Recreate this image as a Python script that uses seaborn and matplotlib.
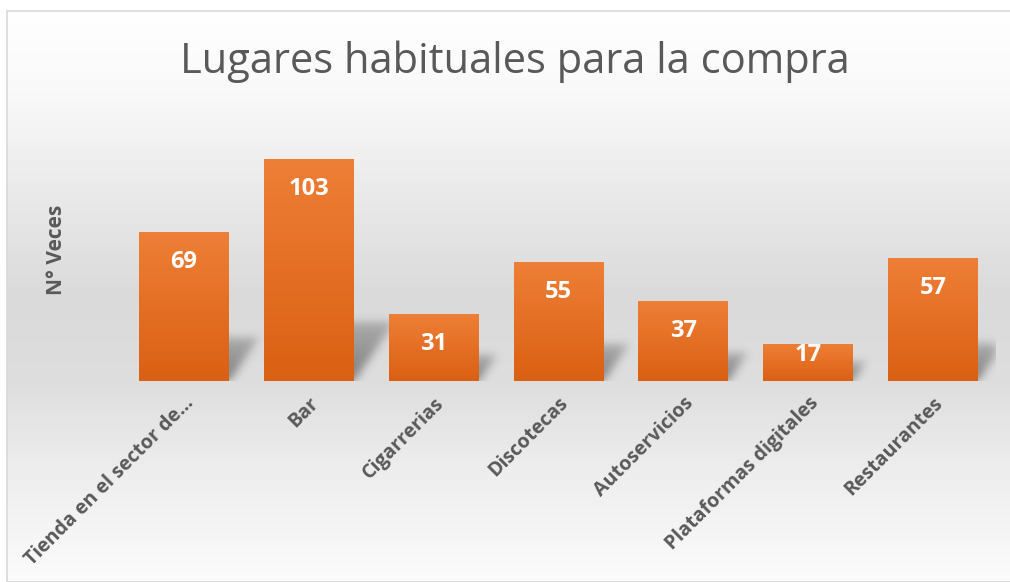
import numpy as np
import matplotlib
matplotlib.use("Agg")
import matplotlib.pyplot as plt
import matplotlib.colors as mcolors
from matplotlib.patches import Rectangle
import seaborn as sns
import pandas as pd

categories = ["Tienda en el sector de…", "Bar", "Cigarrerias", "Discotecas",
              "Autoservicios", "Plataformas digitales", "Restaurantes"]
values = [69, 103, 31, 55, 37, 17, 57]
title = "Lugares habituales para la compra"
ylabel = "N° Veces"

sns.set_theme(style="white")
plt.rcParams["font.family"] = ["Open Sans", "DejaVu Sans"]

W, H = 1010, 582
fig = plt.figure(figsize=(W / 100, H / 100), dpi=100)
fig.patch.set_facecolor("white")

# background panel with vertical gradient
bx0, by_top = 7, 11
bg = fig.add_axes([bx0 / W, 0, 1 - bx0 / W, (H - by_top) / H], zorder=0)
ys = np.linspace(0, 1, 400)  # 0 = top
stops_y = [0.0, 0.15, 0.50, 0.65, 0.80, 1.0]
stops_v = [1.0, 0.975, 0.855, 0.87, 0.93, 0.985]
g = np.interp(ys, stops_y, stops_v)
g2 = np.tile(g[:, None], (1, 2))
img = np.stack([g2, g2, g2], axis=-1)
bg.imshow(img, aspect="auto", extent=(0, 1, 0, 1), origin="upper")
bg.set_xlim(0, 1)
bg.set_ylim(0, 1)
bg.axis("off")
fig.patches.append(Rectangle((bx0 / W, 0), 1.2, (H - by_top) / H,
                             transform=fig.transFigure, fill=False,
                             edgecolor="#d9d9d9", linewidth=1.2, zorder=1))

# main axes
left = 121.5 / W
right = 995.5 / W
base = (H - 381) / H
ymax = 120
top_px = ymax * (222 / 103)
ax = fig.add_axes([left, base, right - left, top_px / H], zorder=2)
ax.patch.set_alpha(0)

df = pd.DataFrame({"cat": categories, "val": values})
sns.barplot(data=df, x="cat", y="val", ax=ax, color="#ED7D31", width=0.72,
            saturation=1, zorder=3)
ax.set_xlim(-0.5, 6.5)
ax.set_ylim(0, ymax)

# shadows (blurred), built from bar values
nx, ny = 875, 100
sh_ymax = 45.0
grid = np.zeros((ny, nx))
xs = np.linspace(-0.5, 6.5, nx)
yv = np.linspace(0, sh_ymax, ny)
XX, YY = np.meshgrid(xs, yv)
for i, v in enumerate(values):
    hs = 0.22 * v + 5
    dx = 0.009 * hs
    frac = np.clip(YY / hs, 0, None)
    x0 = i - 0.30 + frac * dx
    x1 = i + 0.36 + frac * dx * 1.3
    inside = (YY <= hs) & (XX >= x0) & (XX <= x1)
    grid = np.maximum(grid, inside * (1 - 0.5 * frac))


def blur(a, sigma):
    r = int(3 * sigma)
    k = np.exp(-0.5 * (np.arange(-r, r + 1) / sigma) ** 2)
    k /= k.sum()
    a = np.apply_along_axis(lambda m: np.convolve(m, k, mode="same"), 1, a)
    a = np.apply_along_axis(lambda m: np.convolve(m, k, mode="same"), 0, a)
    return a


grid = blur(grid, 4.5)
rgba = np.zeros((ny, nx, 4))
rgba[..., :3] = 0.33
rgba[..., 3] = np.clip(grid * 0.7, 0, 1)
ax.imshow(rgba, extent=(-0.5, 6.5, 0, sh_ymax), origin="lower",
          aspect="auto", zorder=1, interpolation="bilinear")
ax.set_xlim(-0.5, 6.5)
ax.set_ylim(0, ymax)

# gradient fill per bar
cmap = mcolors.LinearSegmentedColormap.from_list("og", ["#DA6013", "#EE7F36"])
grad = np.linspace(0, 1, 256)[:, None]
for p in list(ax.patches):
    x0, y0 = p.get_x(), p.get_y()
    w, h = p.get_width(), p.get_height()
    p.set_edgecolor("none")
    im = ax.imshow(grad, cmap=cmap, extent=(x0, x0 + w, y0, y0 + h),
                   origin="lower", aspect="auto", zorder=4)
    im.set_clip_path(p)
ax.set_xlim(-0.5, 6.5)
ax.set_ylim(0, ymax)

# value labels
px_per_unit = 222 / 103
for i, v in enumerate(values):
    ypos = max(v - 30 / px_per_unit, 26 / px_per_unit)
    ax.text(i, ypos, str(v), ha="center", va="center", color="white",
            fontsize=17, fontweight="bold", zorder=6)

sns.despine(ax=ax, left=True, bottom=True)
ax.set_yticks([])
ax.set_xlabel("")
ax.set_ylabel("")
ax.tick_params(axis="x", length=0, pad=9)
ax.set_xticks(range(len(categories)))
ax.set_xticklabels(categories, rotation=45, ha="right", rotation_mode="anchor",
                   fontsize=14, fontweight="bold", color="#595959")

fig.text(57 / W, 1 - 250 / H, ylabel, rotation=90, ha="center", va="center",
         fontsize=15, fontweight="bold", color="#595959")
fig.text(515 / W, 1 - 62 / H, title, ha="center", va="center",
         fontsize=30, color="#595959")

fig.savefig("out.png", dpi=100)
